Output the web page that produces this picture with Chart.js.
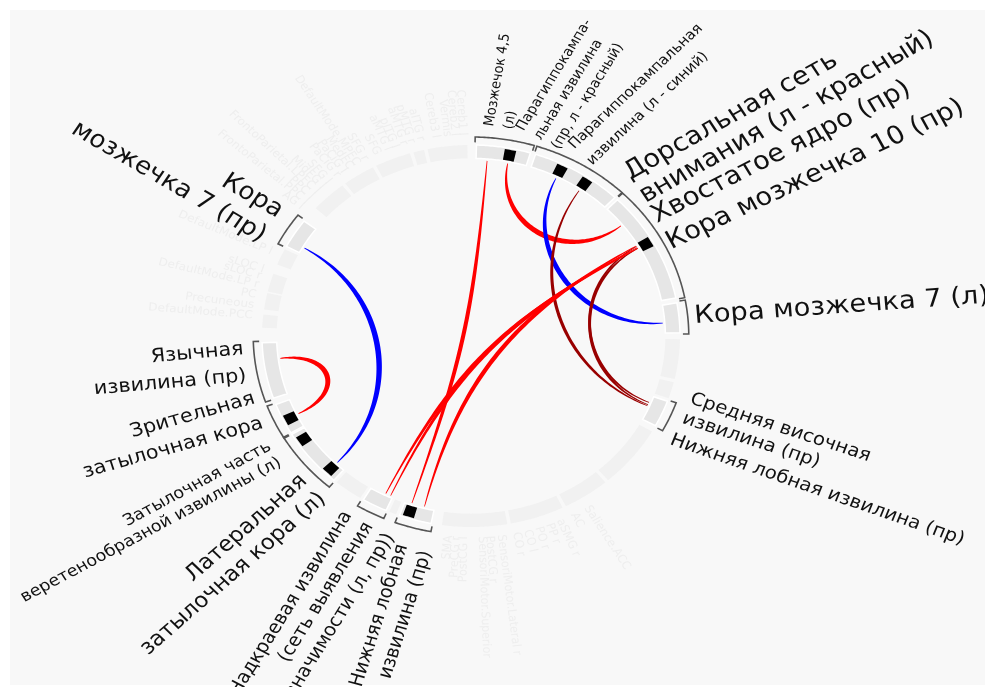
<!DOCTYPE html>
<html lang="ru">
<head>
<meta charset="UTF-8">
<title>Кольцо связей ROI</title>
<script src="https://cdn.jsdelivr.net/npm/chart.js"></script>
<style>
  html, body { margin: 0; padding: 0; background: #fff; }
  .wrap { position: relative; width: 985px; height: 687px; }
</style>
</head>
<body>
<div class="wrap"><canvas id="ring"></canvas></div>
<script>
// --- data ---------------------------------------------------------------
// angles in degrees, counter-clockwise from 3 o'clock

// highlighted ROI groups (light grey blocks with brackets)
const groupNames = ['Кора мозжечка 7 (л)', 'Кора мозжечка 10 (пр)', 'Парагиппокампальная извилина',
  'Мозжечок 4,5 (л)', 'Кора мозжечка 7 (пр)', 'Язычная извилина (пр)', 'Зрительная затылочная кора',
  'Затылочная кора (л)', 'Надкраевая извилина', 'Нижняя лобная извилина (пр)', 'Средняя височная извилина (пр)'];
const groupFrom = [1, 11.5, 46.5, 73.5, 143, 182, 201, 211, 239, 250, 332];
const groupTo   = [10, 45.5, 72, 88.5, 152, 199, 210.5, 229, 246, 259, 340];

// other ROIs of the atlas (faint blocks)
const otherFrom = [91, 103, 107, 118, 128, 153, 161, 167, 173.5, 230, 247, 262, 281, 297, 311, 341, 347];
const otherTo   = [102, 106, 117, 127, 138, 158, 166.5, 172, 177.5, 238, 249, 280, 296, 310, 330, 346, 359];

// ROIs marked black
const markAt = [29.9, 55.8, 63.8, 79, 206.5, 214, 226, 252.4];

// significant connections: from, to, T value
const linkFrom = [150, 187.3, 85.2, 79, 63.8, 55.8, 29.9, 30.6, 29.9, 30.2, 30.8];
const linkTo   = [226, 206.2, 252.1, 38.8, 4.2, 336.6, 337, 337.8, 243.7, 245.3, 256];
const linkT    = [-5.6, 5.2, 4.4, 5.3, -5.1, 3.7, 3.4, 3.2, 4.3, 4.1, 4.6];

// faint atlas labels
const otherLabels = ['Cereb1 l', 'Cereb2 l', 'Vermis', 'Cereb3 l', 'aITG r', 'pMTG r', 'aMTG r', 'pITG l',
  'aMTG l', 'SFG', 'SFG r', 'DefaultMode.MPFC', 'MedFC', 'PaCiG l', 'PaCiG r', 'SFG l', 'MidFG l',
  'FrontoParietal.LPFC l', 'PPC l', 'FrontoParietal.PPC l', 'AG l',
  'DefaultMode.LP l', 'sLOC l', 'sLOC r', 'DefaultMode.LP r', 'PC', 'Precuneous', 'DefaultMode.PCC',
  'SMA', 'PreCG r', 'PostCG l', 'SensoriMotor.Superior', 'PostCG r', 'SensoriMotor.Lateral r',
  'CO r', 'CO l', 'PO r', 'PP r', 'aSMG r', 'AC', 'Salience.ACC'];
const otherLabelAt = [93, 95, 97, 100, 104, 106.5, 108.5, 111, 113, 116, 119.5, 122, 124, 126, 128, 131,
  133, 135, 137, 139, 141, 156, 161.5, 163.5, 166, 169, 172, 175,
  265, 267, 269, 272, 274, 277, 281, 284, 287, 290, 293, 297, 301];

// main labels
const labelText = [
  ['Кора мозжечка 7 (л)'],
  ['Кора мозжечка 10 (пр)'],
  ['Хвостатое ядро (пр)'],
  ['Дорсальная сеть', 'внимания (л - красный)'],
  ['Парагиппокампальная', 'извилина (л - синий)'],
  ['Парагиппокампа-', 'льная извилина', '(пр, л - красный)'],
  ['Мозжечок 4,5', '(л)'],
  ['Средняя височная', 'извилина (пр)'],
  ['Нижняя лобная извилина (пр)'],
  ['Кора', 'мозжечка 7 (пр)'],
  ['Язычная', 'извилина (пр)'],
  ['Зрительная', 'затылочная кора'],
  ['Затылочная часть', 'веретенообразной извилины (л)'],
  ['Латеральная', 'затылочная кора (л)'],
  ['Надкраевая извилина', '(сеть выявления', 'значимости (л, пр))'],
  ['Нижняя лобная', 'извилина (пр)']
];

// --- label layout: angle, radius, screen rotation, size, line height, align
const labelLayout = [
  [3.6, 1.074, -4, 25, 27, 'left'],
  [25.4, 1.06, -25, 25, 27, 'left'],
  [33.6, 1.069, -27, 25, 27, 'left'],
  [47, 1.117, -29, 25, 27, 'left'],
  [63.2, 1.095, -43, 14, 23, 'left'],
  [76.8, 1.10, -58, 13.5, 18.5, 'left'],
  [84.5, 1.10, -80, 13, 18, 'left'],
  [-18.6, 1.10, 18, 18, 21, 'left'],
  [-30.8, 1.103, 19, 18, 21, 'left'],
  [146.3, 1.115, 30, 24, 29, 'right'],
  [-175, 1.09, -5, 19, 27, 'right'],
  [-161.2, 1.087, -15.5, 19, 26, 'right'],
  [-148.1, 1.121, -28, 16, 18.5, 'right'],
  [-135.6, 1.092, -41, 21, 25, 'right'],
  [-121.3, 1.096, -58, 18, 22.5, 'right'],
  [-105.5, 1.141, -72, 18, 23, 'right']
];

const FONT = '"DejaVu Sans", Verdana, sans-serif';
const RING_IN = 0.93, RING_OUT = 1.0, CHORD_R = 0.92;

function pt(chart, deg, r) {
  const a = deg * Math.PI / 180;
  return [chart.scales.x.getPixelForValue(r * Math.cos(a)),
          chart.scales.y.getPixelForValue(r * Math.sin(a))];
}

function stretch(chart) {
  const x = chart.scales.x, y = chart.scales.y;
  return (x.getPixelForValue(1) - x.getPixelForValue(0)) / (y.getPixelForValue(0) - y.getPixelForValue(1));
}

function bandPath(ctx, chart, a0, a1, r0, r1) {
  const n = Math.max(4, Math.ceil(Math.abs(a1 - a0) * 2));
  ctx.beginPath();
  for (let i = 0; i <= n; i++) {
    const p = pt(chart, a0 + (a1 - a0) * i / n, r1);
    i ? ctx.lineTo(p[0], p[1]) : ctx.moveTo(p[0], p[1]);
  }
  for (let i = n; i >= 0; i--) {
    const p = pt(chart, a0 + (a1 - a0) * i / n, r0);
    ctx.lineTo(p[0], p[1]);
  }
  ctx.closePath();
}

function drawBracket(ctx, chart, a0, a1) {
  const rb = 1.042, rt = 1.014;
  const s = a0 - 0.4, e = a1 + 0.4;
  const n = Math.max(4, Math.ceil((e - s) * 2));
  ctx.beginPath();
  let p = pt(chart, s, rt);
  ctx.moveTo(p[0], p[1]);
  for (let i = 0; i <= n; i++) {
    p = pt(chart, s + (e - s) * i / n, rb);
    ctx.lineTo(p[0], p[1]);
  }
  p = pt(chart, e, rt);
  ctx.lineTo(p[0], p[1]);
  ctx.stroke();
}

function drawChord(ctx, chart, aFrom, aTo, t) {
  let sep = Math.abs(aTo - aFrom) % 360;
  if (sep > 180) sep = 360 - sep;
  const beta = Math.max(0.05, 0.8 - 0.004 * sep);
  const r0 = aFrom * Math.PI / 180, r3 = aTo * Math.PI / 180;
  const P0 = [CHORD_R * Math.cos(r0), CHORD_R * Math.sin(r0)];
  const P3 = [CHORD_R * Math.cos(r3), CHORD_R * Math.sin(r3)];
  const P1 = [P0[0] * beta, P0[1] * beta];
  const P2 = [P3[0] * beta, P3[1] * beta];
  const N = 80, pts = [];
  for (let i = 0; i <= N; i++) {
    const s = i / N, m = 1 - s;
    const u = m*m*m*P0[0] + 3*m*m*s*P1[0] + 3*m*s*s*P2[0] + s*s*s*P3[0];
    const v = m*m*m*P0[1] + 3*m*m*s*P1[1] + 3*m*s*s*P2[1] + s*s*s*P3[1];
    pts.push([chart.scales.x.getPixelForValue(u), chart.scales.y.getPixelForValue(v)]);
  }
  const wMax = 1.2 * (Math.abs(t) - 1), wMin = 0.7;
  const left = [], right = [];
  for (let i = 0; i <= N; i++) {
    const a = pts[Math.max(0, i - 1)], b = pts[Math.min(N, i + 1)];
    const dx = b[0] - a[0], dy = b[1] - a[1];
    const len = Math.hypot(dx, dy) || 1;
    const nx = -dy / len, ny = dx / len;
    const w = (wMin + (wMax - wMin) * Math.pow(Math.sin(Math.PI * i / N), 0.8)) / 2;
    left.push([pts[i][0] + nx * w, pts[i][1] + ny * w]);
    right.push([pts[i][0] - nx * w, pts[i][1] - ny * w]);
  }
  ctx.beginPath();
  left.forEach((p, i) => i ? ctx.lineTo(p[0], p[1]) : ctx.moveTo(p[0], p[1]));
  for (let i = right.length - 1; i >= 0; i--) ctx.lineTo(right[i][0], right[i][1]);
  ctx.closePath();
  ctx.fillStyle = t < 0 ? '#0000ff' : (t >= 4 ? '#ff0000' : '#990000');
  ctx.fill();
}

function drawText(ctx, chart, lines, ang, r, rot, size, lh, align, color) {
  const p = pt(chart, ang, r);
  const sx = stretch(chart);
  const th = rot * Math.PI / 180;
  const thp = Math.atan2(sx * Math.sin(th), Math.cos(th));
  ctx.save();
  ctx.translate(p[0], p[1]);
  ctx.scale(sx, 1);
  ctx.rotate(thp);
  ctx.font = size + 'px ' + FONT;
  ctx.textAlign = align;
  ctx.textBaseline = 'alphabetic';
  ctx.fillStyle = color;
  lines.forEach((s, i) => ctx.fillText(s, 0, i * lh));
  ctx.restore();
}

const ringPlugin = {
  id: 'ring',
  beforeDraw(chart) {
    const { ctx, width, height } = chart;
    ctx.save();
    ctx.fillStyle = '#ffffff';
    ctx.fillRect(0, 0, width, height);
    ctx.fillStyle = '#f8f8f8';
    ctx.fillRect(10, 10, width - 10, height - 12);
    ctx.restore();
  },
  afterDatasetsDraw(chart) {
    const ctx = chart.ctx;
    ctx.save();

    // faint atlas labels
    otherLabels.forEach((s, i) => {
      const a = otherLabelAt[i] * Math.PI / 180;
      const c = Math.cos(a) * 209, sn = Math.sin(a) * 191;
      if (c >= 0) {
        const rot = Math.atan2(-sn, c) * 180 / Math.PI;
        drawText(ctx, chart, [s], otherLabelAt[i], 1.05, rot, 11, 12, 'left', '#eeeeee');
      } else {
        const rot = Math.atan2(sn, -c) * 180 / Math.PI;
        drawText(ctx, chart, [s], otherLabelAt[i], 1.05, rot, 11, 12, 'right', '#eeeeee');
      }
    });

    // faint ROI blocks
    ctx.fillStyle = '#f1f1f1';
    otherFrom.forEach((a0, i) => { bandPath(ctx, chart, a0, otherTo[i], RING_IN, RING_OUT); ctx.fill(); });

    // highlighted ROI blocks
    ctx.fillStyle = '#e6e6e6';
    ctx.strokeStyle = '#ffffff';
    ctx.lineWidth = 1.5;
    groupFrom.forEach((a0, i) => {
      bandPath(ctx, chart, a0, groupTo[i], RING_IN, RING_OUT);
      ctx.fill();
      ctx.stroke();
    });

    // black marks
    ctx.fillStyle = '#000000';
    markAt.forEach(a => { bandPath(ctx, chart, a - 1.6, a + 1.6, RING_IN + 0.005, RING_OUT - 0.008); ctx.fill(); });

    // brackets
    ctx.strokeStyle = '#555555';
    ctx.lineWidth = 1.6;
    groupFrom.forEach((a0, i) => drawBracket(ctx, chart, a0, groupTo[i]));

    // connections
    linkFrom.forEach((a, i) => drawChord(ctx, chart, a, linkTo[i], linkT[i]));

    // labels
    labelText.forEach((lines, i) => {
      const L = labelLayout[i];
      drawText(ctx, chart, lines, L[0], L[1], L[2], L[3], L[4], L[5], '#111111');
    });

    ctx.restore();
  }
};

new Chart(document.getElementById('ring'), {
  type: 'scatter',
  data: {
    datasets: [{
      label: 'ROI',
      data: groupFrom.map((a0, i) => {
        const a = (a0 + groupTo[i]) / 2 * Math.PI / 180;
        return { x: Math.cos(a), y: Math.sin(a) };
      }),
      pointRadius: 0
    }]
  },
  options: {
    responsive: true,
    maintainAspectRatio: false,
    animation: false,
    layout: { padding: 0 },
    events: [],
    plugins: { legend: { display: false }, tooltip: { enabled: false } },
    scales: {
      x: { type: 'linear', min: -2.2536, max: 2.4593, display: false },
      y: { type: 'linear', min: -1.8377, max: 1.7592, display: false }
    }
  },
  plugins: [ringPlugin]
});
</script>
</body>
</html>
